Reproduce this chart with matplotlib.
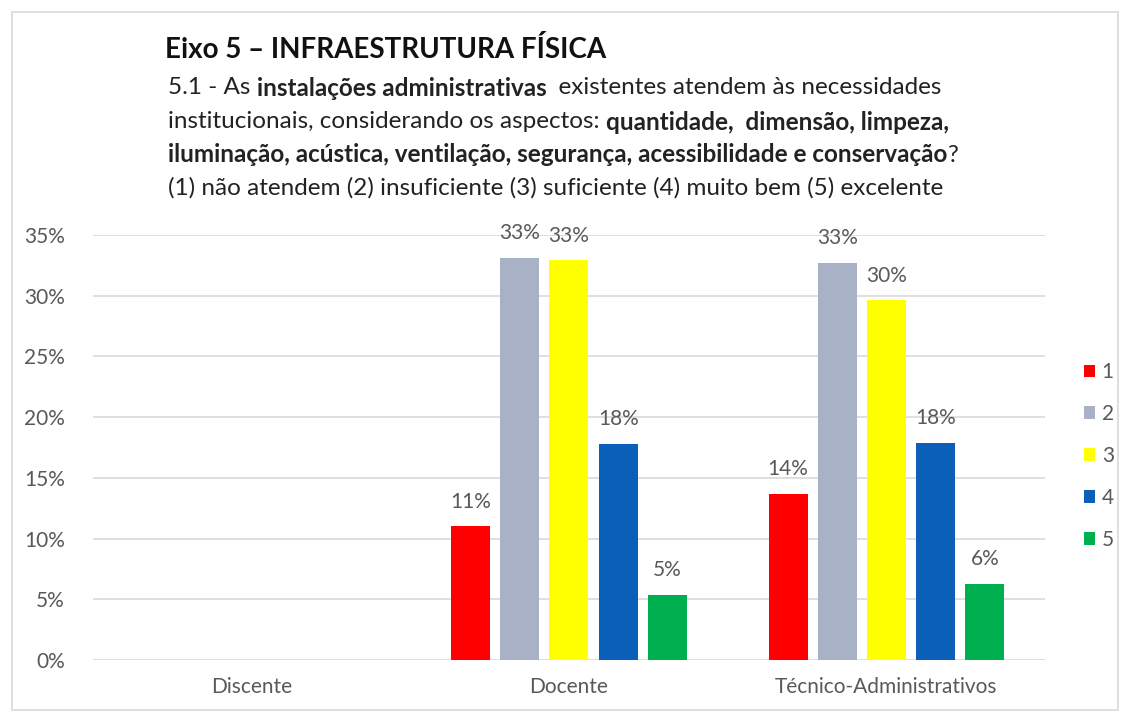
import numpy as np
import matplotlib.pyplot as plt
from matplotlib.patches import Rectangle

groups = ["Discente", "Docente", "Técnico-Administrativos"]
series = ["1", "2", "3", "4", "5"]
v1 = [np.nan, 11.0, 13.7]
v2 = [np.nan, 33.1, 32.7]
v3 = [np.nan, 32.9, 29.6]
v4 = [np.nan, 17.8, 17.9]
v5 = [np.nan, 5.4, 6.3]
labels = [
    [None, "11%", "14%"],
    [None, "33%", "33%"],
    [None, "33%", "30%"],
    [None, "18%", "18%"],
    [None, "5%", "6%"],
]
colors = ["#ff0000", "#a9b1c6", "#ffff00", "#0a60b8", "#00b050"]
values = [v1, v2, v3, v4, v5]

plt.rcParams["font.family"] = ["Lato", "DejaVu Sans"]

fig = plt.figure(figsize=(11.3, 7.16), dpi=100)
ax = fig.add_axes([0.082, 0.078, 0.843, 0.594])

x = np.arange(len(groups))
step = 0.155
width = 0.123
for i, (vals, col) in enumerate(zip(values, colors)):
    pos = x + (i - 2) * step
    bars = ax.bar(pos, vals, width, color=col, label=series[i], zorder=3)
    for b, lab in zip(bars, labels[i]):
        if lab:
            ax.text(b.get_x() + b.get_width() / 2, b.get_height() + 1.2, lab,
                    ha="center", va="bottom", fontsize=15, color="#595959")

ax.set_xlim(-0.5, 2.5)
ax.set_ylim(0, 35)
ax.set_yticks(range(0, 36, 5))
ax.set_yticklabels([f"{t}%" for t in range(0, 36, 5)])
ax.set_xticks(x)
ax.set_xticklabels(groups)
ax.tick_params(axis="both", length=0, labelsize=15, labelcolor="#595959")
ax.tick_params(axis="y", pad=20)
ax.tick_params(axis="x", pad=12)
ax.yaxis.grid(True, color="#d9d9d9", linewidth=1.2, zorder=0)
for s in ax.spines.values():
    s.set_visible(False)

leg = ax.legend(loc="center left", bbox_to_anchor=(1.021, 0.48), frameon=False,
                handlelength=0.55, handleheight=0.55, handletextpad=0.3,
                labelspacing=1.05, fontsize=15)
for t in leg.get_texts():
    t.set_color("#595959")

# title block
fig.text(165 / 1130, 1 - 50 / 716, "Eixo 5 – INFRAESTRUTURA FÍSICA",
         fontsize=20, fontweight="bold", color="#111111", va="center")

lines = [
    (88, [("5.1 - As ", "normal"), ("instalações administrativas", "bold"),
          ("  existentes atendem às necessidades", "normal")]),
    (122, [("institucionais, considerando os aspectos: ", "normal"),
           ("quantidade,  dimensão, limpeza,", "bold")]),
    (155, [("iluminação, acústica, ventilação, segurança, acessibilidade e conservação", "bold"),
           ("?", "normal")]),
    (188, [("(1) não atendem (2) insuficiente (3) suficiente (4) muito bem (5) excelente", "normal")]),
]
renderer = fig.canvas.get_renderer()
for ypix, parts in lines:
    xpix = 168
    for txt, wt in parts:
        t = fig.text(xpix / 1130, 1 - ypix / 716, txt, fontsize=17.5,
                     fontweight=wt, color="#222222", va="center")
        xpix += t.get_window_extent(renderer).width

fig.patches.append(Rectangle((12 / 1130, 6 / 716), 1106 / 1130, 698 / 716,
                             transform=fig.transFigure, fill=False,
                             edgecolor="#d9d9d9", linewidth=1.2))

fig.savefig("out.png", dpi=100)
